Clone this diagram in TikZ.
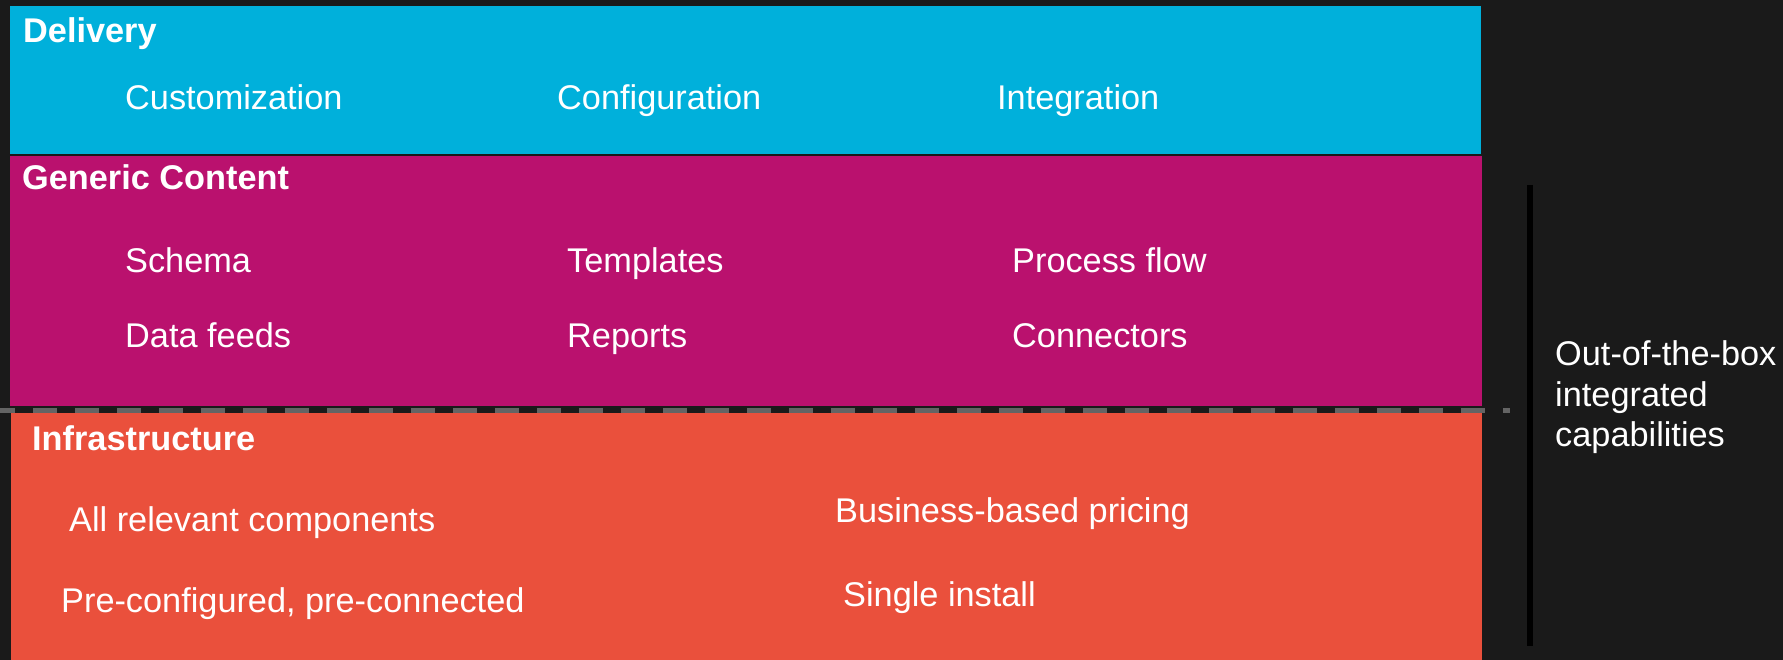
\documentclass[tikz,border=0pt]{standalone}
\usepackage{fontspec}
\setmainfont{Liberation Sans}
\definecolor{bg}{HTML}{1A1A1A}
\definecolor{cdel}{HTML}{00B0DB}
\definecolor{cgen}{HTML}{BA116E}
\definecolor{cinf}{HTML}{EA503C}
\definecolor{cdash}{HTML}{646464}
\tikzset{
  head/.style={anchor=base west, inner sep=0pt, text=white, font=\fontsize{34.3}{40}\selectfont\bfseries},
  item/.style={anchor=base west, inner sep=0pt, text=white, font=\fontsize{34.3}{41}\selectfont},
  side/.style={anchor=base west, inner sep=0pt, text=white, font=\fontsize{34.3}{41}\selectfont},
}
\begin{document}
\begin{tikzpicture}[x=1pt,y=-1pt]
\fill[bg] (0,0) rectangle (1783,660);
\useasboundingbox (0,0) rectangle (1783,660);
% boxes
\fill[cdel] (10,6) rectangle (1481,154);
\fill[cgen] (10,156) rectangle (1482,406);
\fill[cinf] (11,413) rectangle (1482,660);
% dashed separator
\draw[cdash, line width=5pt, dash pattern=on 24pt off 18pt] (-9,410.5) -- (1510,410.5);
% bracket line
\draw[black, line width=6pt] (1530,185) -- (1530,646);
% Delivery
\node[head] (dh) at (23,43) {Delivery};
\node[item] (d1) at (125,110) {Customization};
\node[item] (d2) at (557,110) {Configuration};
\node[item] (d3) at (997,110) {Integration};
% Generic content
\node[head] (gh) at (22,190) {Generic Content};
\node[item] (g1) at (125,273) {Schema};
\node[item] (g2) at (567,273) {Templates};
\node[item] (g3) at (1012,273) {Process flow};
\node[item] (g4) at (125,347) {Data feeds};
\node[item] (g5) at (567,347) {Reports};
\node[item] (g6) at (1012,347) {Connectors};
% Infrastructure
\node[head] (ih) at (32,450) {Infrastructure};
\node[item] (i1) at (69,531) {All relevant components};
\node[item] (i2) at (835,522) {Business-based pricing};
\node[item] (i3) at (61,612) {Pre-configured, pre-connected};
\node[item] (i4) at (843,606) {Single install};
% side label
\node[side] (s1) at (1555,365) {Out-of-the-box};
\node[side] (s2) at (1555,406) {integrated};
\node[side] (s3) at (1555,446) {capabilities};
\end{tikzpicture}
\end{document}
